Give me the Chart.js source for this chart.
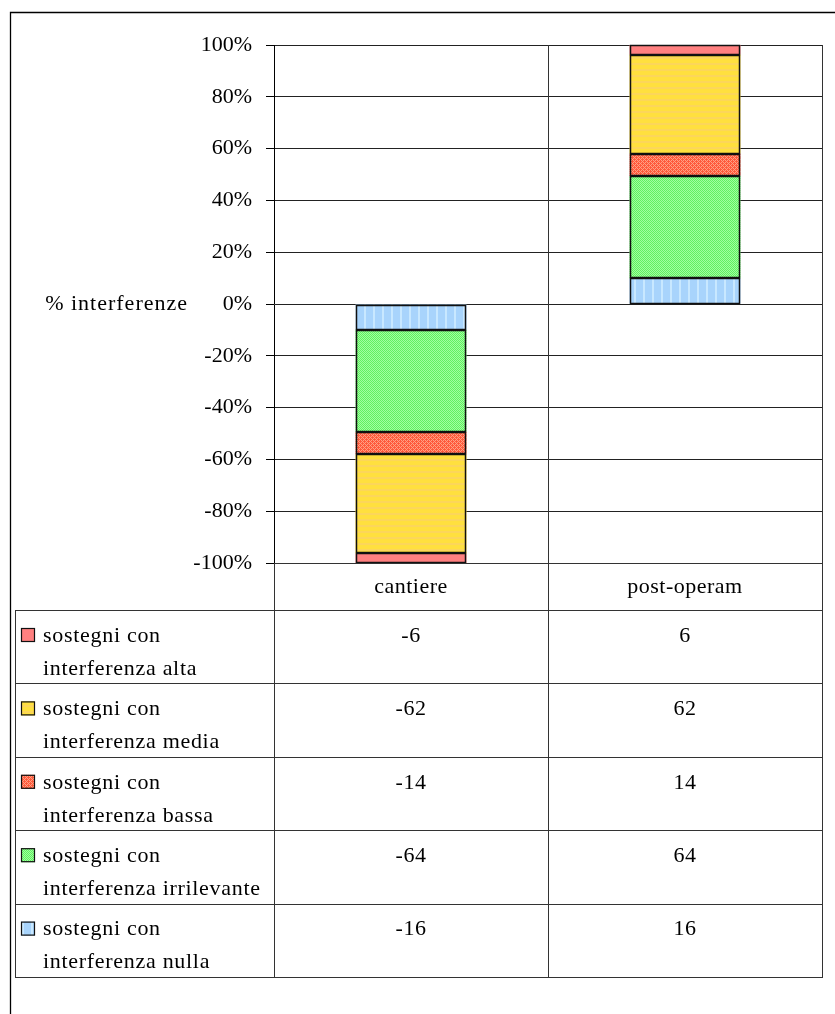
<!DOCTYPE html>
<html>
<head>
<meta charset="utf-8">
<script src="https://cdn.jsdelivr.net/npm/chart.js"></script>
<style>
  html, body { margin: 0; padding: 0; background: #fff; }
  #grafico { display: block; }
</style>
</head>
<body>
<canvas id="grafico" width="835" height="1014"></canvas>
<script>
// Categorie e valori (cantiere negativo, post-operam positivo)
var categorie = ['cantiere', 'post-operam'];
var alta = [-6, 6];
var media = [-62, 62];
var bassa = [-14, 14];
var irrilevante = [-64, 64];
var nulla = [-16, 16];

var nomiSerie = [
    'sostegni con interferenza nulla',
    'sostegni con interferenza irrilevante',
    'sostegni con interferenza bassa',
    'sostegni con interferenza media',
    'sostegni con interferenza alta'
];
var serie = [nulla, irrilevante, bassa, media, alta];

var FONT = '"Liberation Serif", "Times New Roman", serif';

// Totali per colonna, per normalizzare al 100%
var totali = categorie.map(function(c, i) {
    return serie.reduce(function(s, arr) { return s + Math.abs(arr[i]); }, 0);
});
function percentuali(arr) {
    return arr.map(function(v, i) { return v / totali[i] * 100; });
}

// Riempimenti a trama
var ctxTmp = document.getElementById('grafico').getContext('2d');
function pattern(w, h, disegna) {
    var c = document.createElement('canvas');
    c.width = w; c.height = h;
    disegna(c.getContext('2d'));
    return ctxTmp.createPattern(c, 'repeat');
}

var riempimenti = [
    // nulla: azzurro a righe verticali
    pattern(9, 4, function(g) {
        g.fillStyle = '#a8d4fc'; g.fillRect(0, 0, 9, 4);
        g.fillStyle = '#c8e8ff'; g.fillRect(4, 0, 2, 4);
    }),
    // irrilevante: verde a scacchi fini
    pattern(4, 4, function(g) {
        g.fillStyle = '#a0ffa0'; g.fillRect(0, 0, 4, 4);
        g.fillStyle = '#60f060';
        for (var y = 0; y < 4; y++) for (var x = 0; x < 4; x++) {
            if ((x + y) % 2 === 0 && !(x === (y + 1) % 4)) g.fillRect(x, y, 1, 1);
        }
    }),
    // bassa: rosso tratteggiato
    pattern(4, 4, function(g) {
        g.fillStyle = '#ffa084'; g.fillRect(0, 0, 4, 4);
        g.fillStyle = '#ff5a3c';
        for (var y = 0; y < 4; y++) for (var x = 0; x < 4; x++) {
            if ((x + y) % 2 === 0) g.fillRect(x, y, 1, 1);
        }
        g.fillRect(0, 1, 1, 1);
        g.fillRect(2, 3, 1, 1);
    }),
    // media: giallo a righe orizzontali leggere
    pattern(4, 6, function(g) {
        g.fillStyle = '#ffe03e'; g.fillRect(0, 0, 4, 6);
        g.fillStyle = '#fcd65a'; g.fillRect(0, 3, 4, 2);
    }),
    // alta: rosa pieno
    '#ff8080'
];

var datasets = serie.map(function(arr, k) {
    return {
        label: nomiSerie[k],
        data: percentuali(arr),
        backgroundColor: riempimenti[k],
        borderWidth: 0,
        categoryPercentage: 0.405,
        barPercentage: 1
    };
});

// Contorni netti dei segmenti, allineati ai pixel
var contorniBarre = {
    id: 'contorniBarre',
    afterDatasetsDraw: function(chart) {
        var ctx = chart.ctx;
        ctx.save();
        ctx.strokeStyle = '#111';
        ctx.lineWidth = 1.5;
        chart.data.datasets.forEach(function(ds, k) {
            chart.getDatasetMeta(k).data.forEach(function(bar) {
                var p = bar.getProps(['x', 'y', 'base', 'width'], true);
                var x0 = Math.round(p.x - p.width / 2) + 0.5;
                var x1 = Math.round(p.x + p.width / 2) - 0.5;
                var y0 = Math.round(Math.min(p.y, p.base)) + 0.5;
                var y1 = Math.round(Math.max(p.y, p.base)) - 0.5;
                ctx.strokeRect(x0, y0, x1 - x0, y1 - y0);
            });
        });
        ctx.restore();
    }
};

// Tabella dati sotto il grafico, titolo asse e cornice
var tabellaDati = {
    id: 'tabellaDati',
    beforeDatasetsDraw: function(chart) {
        var ctx = chart.ctx, a = chart.chartArea;
        ctx.save();
        ctx.strokeStyle = '#333';
        ctx.lineWidth = 1;
        // separatore tra categorie e bordo destro
        ctx.beginPath();
        ctx.moveTo(548.5, a.top); ctx.lineTo(548.5, a.bottom);
        ctx.moveTo(a.right + 0.5, a.top); ctx.lineTo(a.right + 0.5, a.bottom);
        ctx.stroke();
        ctx.restore();
    },
    afterDraw: function(chart) {
        var ctx = chart.ctx, a = chart.chartArea, xs = chart.scales.x;
        var sinistra = 15, top0 = a.bottom, top1 = 610, alt = 73.4;
        var fine = top1 + alt * 5;
        ctx.save();

        // cornice esterna
        ctx.strokeStyle = '#000';
        ctx.lineWidth = 1.3;
        ctx.beginPath();
        ctx.moveTo(10.5, 1014); ctx.lineTo(10.5, 12.5); ctx.lineTo(835, 12.5);
        ctx.stroke();

        // griglia tabella
        ctx.strokeStyle = '#333';
        ctx.lineWidth = 1;
        ctx.beginPath();
        [a.left, 548, a.right].forEach(function(x) {
            ctx.moveTo(Math.round(x) + 0.5, top0); ctx.lineTo(Math.round(x) + 0.5, fine);
        });
        ctx.moveTo(sinistra + 0.5, top1); ctx.lineTo(sinistra + 0.5, fine);
        ctx.moveTo(a.left, Math.round(top0) + 0.5); ctx.lineTo(a.right, Math.round(top0) + 0.5);
        for (var r = 0; r <= 5; r++) {
            var y = Math.round(top1 + r * alt) + 0.5;
            ctx.moveTo(sinistra, y); ctx.lineTo(a.right + 1, y);
        }
        ctx.stroke();

        ctx.fillStyle = '#000';
        ctx.font = '22px ' + FONT;
        ctx.textBaseline = 'middle';
        ctx.textAlign = 'center';
        ctx.letterSpacing = '0.5px';
        categorie.forEach(function(c, i) {
            ctx.fillText(c, xs.getPixelForValue(i), 587);
        });

        // righe: dalla serie in cima alla pila a quella in basso
        for (var r = 0; r < 5; r++) {
            var k = 4 - r;
            var t = top1 + r * alt;
            ctx.fillStyle = riempimenti[k];
            ctx.fillRect(21, t + 18, 14, 14);
            ctx.strokeStyle = '#111';
            ctx.lineWidth = 1.2;
            ctx.strokeRect(21.5, t + 18.5, 13, 13);

            ctx.fillStyle = '#000';
            ctx.textAlign = 'left';
            ctx.letterSpacing = '0.7px';
            var parole = nomiSerie[k].split(' ');
            ctx.fillText(parole.slice(0, 2).join(' '), 43, t + 26);
            ctx.fillText(parole.slice(2).join(' '), 43, t + 59);
            ctx.letterSpacing = '0.5px';
            ctx.textAlign = 'center';
            categorie.forEach(function(c, i) {
                ctx.fillText(String(serie[k][i]), xs.getPixelForValue(i), t + 26);
            });
        }

        // titolo asse verticale, orizzontale
        ctx.textAlign = 'right';
        ctx.letterSpacing = '1px';
        ctx.fillText('% interferenze', 188, chart.scales.y.getPixelForValue(0));
        ctx.restore();
    }
};

new Chart(document.getElementById('grafico'), {
    type: 'bar',
    data: { labels: categorie, datasets: datasets },
    options: {
        responsive: false,
        animation: false,
        layout: { padding: { left: 10, top: 45, right: 13, bottom: 451 } },
        plugins: {
            legend: { display: false },
            tooltip: { enabled: false }
        },
        scales: {
            x: {
                stacked: true,
                display: false
            },
            y: {
                stacked: true,
                min: -100,
                max: 100,
                afterFit: function(scale) { scale.width = 264; },
                ticks: {
                    stepSize: 20,
                    padding: 14,
                    color: '#000',
                    font: { family: FONT, size: 22 },
                    callback: function(v) { return v + '%'; }
                },
                grid: {
                    color: '#222',
                    lineWidth: 1,
                    tickLength: 8,
                    tickColor: '#000'
                },
                border: { display: true, color: '#000', width: 1 }
            }
        }
    },
    plugins: [tabellaDati, contorniBarre]
});
</script>
</body>
</html>
